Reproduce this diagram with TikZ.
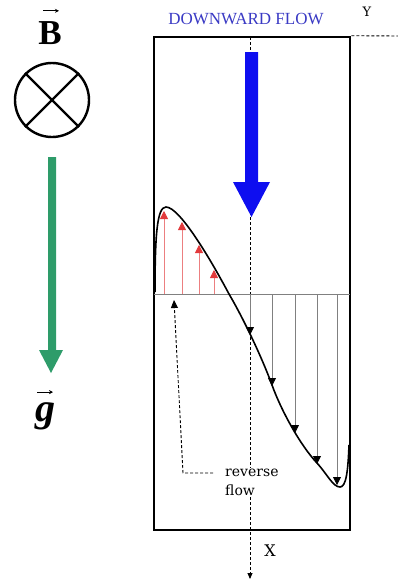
\documentclass[tikz,border=0pt]{standalone}
\usepackage{fontspec}
\setmainfont{Liberation Serif}
\newfontfamily\slabfont{DejaVu Serif}
\usetikzlibrary{arrows.meta, positioning}
\definecolor{flowblue}{HTML}{0E0EF0}
\definecolor{titleblue}{HTML}{3A3AC4}
\definecolor{gravgreen}{HTML}{2E9C6A}
\definecolor{revred}{HTML}{E23A3C}
\definecolor{shaftgray}{HTML}{808080}

\begin{document}
\begin{tikzpicture}[x=1pt, y=-1pt,
    every node/.style={inner sep=0pt},
    wall/.style={draw, line width=2.6pt},
    axis/.style={densely dashed, line width=0.9pt},
    upvec/.style={revred!65, line width=0.8pt,
                  -{Triangle[length=8pt, width=8pt, color=revred]}},
    downvec/.style={shaftgray, line width=0.8pt,
                  -{Triangle[length=8pt, width=8pt, color=black]}},
    vecmark/.style={line width=1pt, -{Stealth[length=4pt, width=4pt]}},
    profile/.style={line width=1.6pt},
]
\useasboundingbox (0,0) rectangle (398,582);

% field and gravity
\node[font=\fontsize{35}{35}\selectfont\bfseries] (blab) at (50,33.5) {B};
\draw[vecmark] ([shift={(-7,-11)}]blab.north) -- ([shift={(9,-11)}]blab.north);
\node[draw, circle, line width=2.4pt, minimum size=74pt] (bfield) at (52,100) {};
\draw[line width=2.4pt] (bfield.north west) -- (bfield.south east);
\draw[line width=2.4pt] (bfield.north east) -- (bfield.south west);

\fill[gravgreen] (48,157) -- (56,157) -- (56,350) -- (63,350) -- (51,373)
    -- (39,350) -- (48,350) -- cycle;
\node[font=\fontsize{40}{40}\selectfont\bfseries\itshape] (glab) at (45,416) {g};
\draw[vecmark] ([shift={(-8,-10)}]glab.north) -- ([shift={(8,-10)}]glab.north);

% channel
\node[font=\fontsize{17}{17}\selectfont, text=titleblue] (title) at (246,19)
    {DOWNWARD FLOW};
\node[wall, minimum width=196pt, minimum height=493pt] (channel) at (252,283.5) {};

\coordinate (axtop) at (250,37);
\coordinate (axend) at (250,579);
\coordinate (yend) at (398,36);
\draw[axis, -{Triangle[length=6pt, width=5pt]}] (axtop) -- (axend);
\draw[axis] (channel.north east) -- (yend);
\node[font=\slabfont\fontsize{13}{13}\selectfont] (ylab) at (367,12) {Y};
\node[font=\slabfont\fontsize{16}{16}\selectfont] (xlab) at (270,551) {X};

\fill[flowblue] (245,52) -- (258,52) -- (258,182) -- (270,182) -- (251.5,217)
    -- (233,182) -- (245,182) -- cycle;

% velocity profile
\coordinate (bl) at (154,294);
\coordinate (br) at (350,294);
\draw[shaftgray, line width=1pt] (bl) -- (br);

\foreach \x/\tip [count=\i] in {164/211, 182/222, 199/245, 214/270} {
    \coordinate (rb\i) at (\x,294);
    \coordinate (rt\i) at (\x,\tip);
    \draw[upvec] (rb\i) -- (rt\i);
}
\foreach \x/\tip [count=\i] in {250/335, 272/386, 295/433, 317/464, 337/485} {
    \coordinate (db\i) at (\x,294);
    \coordinate (dt\i) at (\x,\tip);
    \draw[downvec] (db\i) -- (dt\i);
}

\draw[profile] (155,292) .. controls (155,235) and (157,207) .. (166,207)
    .. controls (180,207) and (212,262) .. (229,294)
    .. controls (242,316) and (261,355) .. (272,385)
    .. controls (281,410) and (300,445) .. (317,463)
    .. controls (327,474) and (333,487) .. (340,487)
    .. controls (346,487) and (348,472) .. (349,445);

% reverse flow label
\node[font=\slabfont\fontsize{14}{19}\selectfont, align=left, fill=white,
      inner sep=1pt, anchor=north west] (revlab) at (224,468) {reverse\\flow};
\coordinate (rvstart) at (213,473);
\coordinate (rvcorner) at (183,473);
\coordinate (rvtip) at (174,300);
\draw[axis, -{Triangle[length=8pt, width=7pt]}] (rvstart) -- (rvcorner) -- (rvtip);

\end{tikzpicture}
\end{document}
